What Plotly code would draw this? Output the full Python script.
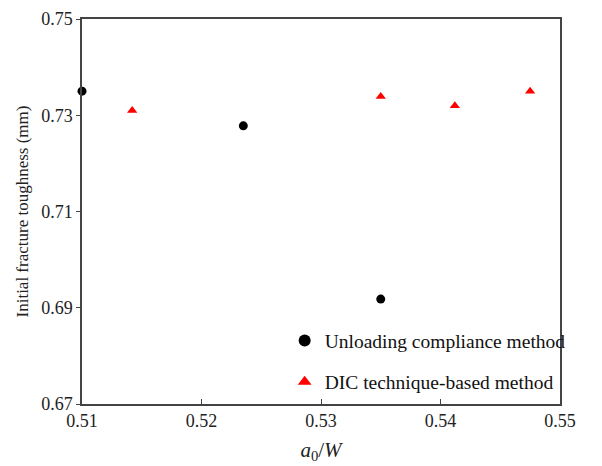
import plotly.graph_objects as go

unload_x = [0.510, 0.5235, 0.535]
unload_y = [0.735, 0.7278, 0.6918]
dic_x = [0.5142, 0.535, 0.5412, 0.5475]
dic_y = [0.731, 0.7339, 0.732, 0.735]
x_ticks = [0.51, 0.52, 0.53, 0.54, 0.55]
y_ticks = [0.67, 0.69, 0.71, 0.73, 0.75]
names = ["Unloading compliance method", "DIC technique-based method"]

font = "Liberation Serif, Times New Roman, serif"
fig = go.Figure()
fig.add_trace(go.Scatter(x=unload_x, y=unload_y, mode="markers", showlegend=False,
                         marker=dict(symbol="circle", size=9, color="black"),
                         cliponaxis=False))
fig.add_trace(go.Scatter(x=dic_x, y=dic_y, mode="markers", showlegend=False,
                         marker=dict(symbol="triangle-up", size=9, color="#ff0000"),
                         cliponaxis=False))
# legend entries (smaller markers like the reference)
fig.add_trace(go.Scatter(x=[None], y=[None], mode="markers", name=names[0], legendgroup="a",
                         marker=dict(symbol="circle", size=7, color="black")))
fig.add_trace(go.Scatter(x=[None], y=[None], mode="markers", name=names[1], legendgroup="b",
                         marker=dict(symbol="triangle-up", size=7, color="#ff0000")))
fig.update_layout(
    width=602, height=466,
    margin=dict(l=82, r=42, t=19, b=62),
    paper_bgcolor="white", plot_bgcolor="white",
    font=dict(family=font, size=17, color="#222"),
    showlegend=True,
    legend=dict(x=0.424, y=0.215, xanchor="left", yanchor="top",
                bgcolor="rgba(0,0,0,0)", font=dict(size=19.5, color="#111"),
                tracegroupgap=13, itemsizing="constant", itemwidth=30),
    xaxis=dict(range=[0.51, 0.55], tickvals=x_ticks, ticktext=[f"{v:.2f}" for v in x_ticks],
               showgrid=False, zeroline=False, showline=True, linecolor="#444", linewidth=1.5,
               mirror=True, ticks="inside", ticklen=5, tickcolor="#444", automargin=False,
               tickfont=dict(size=18, family=font, color="#222"),
               title=dict(text="<i>a</i><sub>0</sub>/<i>W</i>", font=dict(size=21, family=font), standoff=12)),
    yaxis=dict(range=[0.67, 0.75], tickvals=y_ticks, ticktext=[f"{v:.2f}" for v in y_ticks],
               showgrid=False, zeroline=False, showline=True, linecolor="#444", linewidth=1.5,
               mirror=True, ticks="outside", ticklen=4, tickcolor="#444", automargin=False,
               tickfont=dict(size=18, family=font, color="#222"),
               title=dict(text="Initial fracture toughness (mm)", font=dict(size=17, family=font), standoff=8)),
)
fig.write_html("out.html")
